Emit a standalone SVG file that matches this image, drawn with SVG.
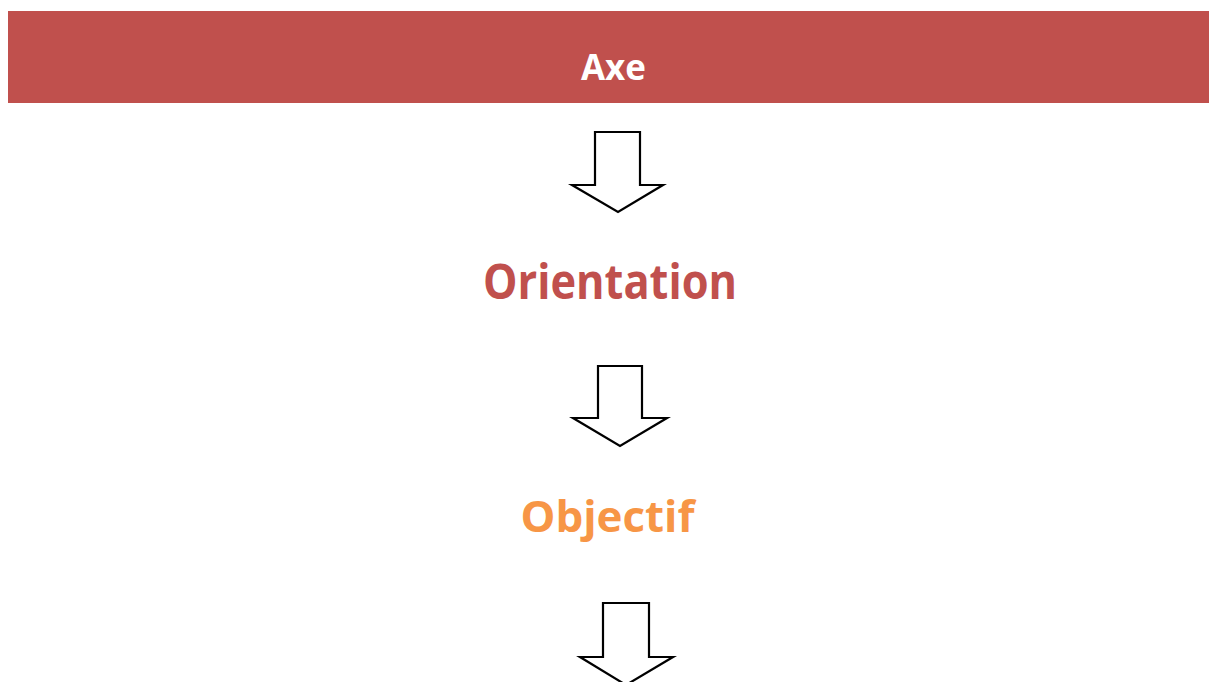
<svg xmlns="http://www.w3.org/2000/svg" width="1209" height="682" viewBox="0 0 1209 682">
<style>
.t{font-family:"Open Sans","Liberation Sans",sans-serif;font-weight:bold;text-anchor:middle}
.arr{fill:#fff;stroke:#000;stroke-width:2.2;stroke-linejoin:miter}
</style>
<rect width="1209" height="682" fill="#fff"/>
<g id="axe">
<rect x="8" y="11" width="1201" height="92" fill="#C0504D"/>
<text class="t" x="613.5" y="80" font-size="35" fill="#fff" textLength="65" lengthAdjust="spacingAndGlyphs">Axe</text>
</g>
<g id="orientation">
<text class="t" x="610" y="299" font-size="49" fill="#C0504D" textLength="254" lengthAdjust="spacingAndGlyphs">Orientation</text>
</g>
<g id="objectif">
<text class="t" x="607.5" y="532" font-size="43" fill="#F79646" textLength="174" lengthAdjust="spacingAndGlyphs">Objectif</text>
</g>
<g id="connectors">
<path class="arr" d="M595,132 H640 V185 H663 L618,212 L572,185 H595 Z"/>
<path class="arr" d="M598,366 H642 V418 H667 L620,446 L573,418 H598 Z"/>
<path class="arr" d="M603,603 H649 V657 H673 L626,685 L580,657 H603 Z"/>
</g>
</svg>
